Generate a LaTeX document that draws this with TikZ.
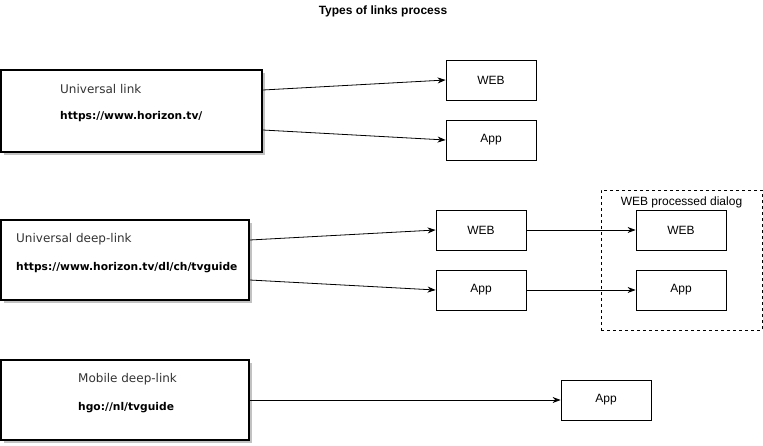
\documentclass[tikz,border=0pt]{standalone}
\usepackage{fontspec}
\setmainfont{Liberation Sans}
\newfontfamily\verd{DejaVu Sans}
\usetikzlibrary{arrows.meta,shadows}

\tikzset{
  linkbox/.style={draw, line width=1.6pt, fill=white, inner sep=0pt,
    drop shadow={shadow xshift=2.5pt, shadow yshift=-2.5pt, fill=black!40, opacity=0.6}},
  target/.style={draw, line width=0.8pt, fill=white, minimum width=90pt, minimum height=40pt,
    inner sep=0pt, font=\fontsize{12}{14}\selectfont},
  linkname/.style={anchor=west, inner sep=0pt, font=\verd\fontsize{12}{14}\selectfont, text=black!80},
  linkurl/.style={anchor=west, inner sep=0pt, font=\verd\bfseries\fontsize{10.7}{13}\selectfont},
  flow/.style={-{Stealth[length=8pt,width=6pt]}, line width=0.8pt}
}

\begin{document}
\begin{tikzpicture}[x=1pt,y=-1pt]
\useasboundingbox (0,0) rectangle (763,445);
% Title
\node[font=\bfseries\fontsize{12}{14}\selectfont] (title) at (383,11) {Types of links process};

% Universal link
\node[linkbox, minimum width=261pt, minimum height=82pt] (ul) at (131.5,111) {};
\node[linkname] (ulname) at (60,89) {Universal link};
\node[linkurl] (ulurl) at (60,117) {https://www.horizon.tv/};
\node[target] (ulweb) at (491,80) {WEB};
\node[target] (ulapp) at (491,140) {App};
\draw[flow] ([yshift=21pt]ul.east) -- (ulweb.west);
\draw[flow] ([yshift=-19pt]ul.east) -- (ulapp.west);

% Universal deep-link
\node[linkbox, minimum width=248pt, minimum height=80pt] (ud) at (125,260) {};
\node[linkname] (udname) at (16,239) {Universal deep-link};
\node[linkurl] (udurl) at (16,268) {https://www.horizon.tv/dl/ch/tvguide};
\node[target] (udweb) at (481,230) {WEB};
\node[target] (udapp) at (481,290) {App};
\draw[flow] ([yshift=20pt]ud.east) -- (udweb.west);
\draw[flow] ([yshift=-20pt]ud.east) -- (udapp.west);

% WEB processed dialog
\node[draw, dashed, line width=0.8pt, minimum width=161pt, minimum height=140pt] (dialog) at (681.5,260) {};
\node[font=\fontsize{12}{14}\selectfont, anchor=north, inner sep=0pt] (dialogname) at ([yshift=-6.5pt]dialog.north) {WEB processed dialog};
\node[target] (dlweb) at (681,230) {WEB};
\node[target] (dlapp) at (681,290) {App};
\draw[flow] (udweb) -- (dlweb);
\draw[flow] (udapp) -- (dlapp);

% Mobile deep-link
\node[linkbox, minimum width=248pt, minimum height=80pt] (md) at (125,400) {};
\node[linkname] (mdname) at (78,379) {Mobile deep-link};
\node[linkurl] (mdurl) at (78,408) {hgo://nl/tvguide};
\node[target] (mdapp) at (606,400) {App};
\draw[flow] (md.east) -- (mdapp.west);
\end{tikzpicture}
\end{document}
